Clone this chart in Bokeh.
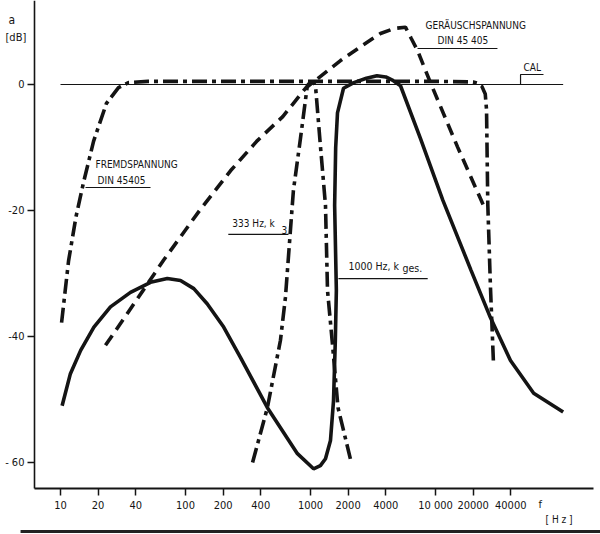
from bokeh.plotting import figure
from bokeh.models import FixedTicker, Label, Range1d
from bokeh.embed import file_html
from bokeh.resources import INLINE

# ---- axis ticks ----
x_ticks = [10, 20, 40, 100, 200, 400, 1000, 2000, 4000, 10000, 20000, 40000]
x_tick_labels = ["10", "20", "40", "100", "200", "400", "1000", "2000", "4000",
                 "10 000", "20000", "40000"]
y_ticks = [0, -20, -40, -60]
y_tick_labels = ["0", "-20", "-40", "- 60"]

# ---- curves (frequency in Hz, level in dB) ----
cal_f = [10, 105000]
cal_db = [0, 0]

fremd_f = [10.2, 11.6, 13.3, 15.3, 18.4, 23.3, 29.1, 35, 50, 100, 1000, 10000,
           20000, 21600, 23500, 25000, 25600, 26200, 27500, 29100]
fremd_db = [-37.8, -28, -21, -15.5, -9, -3, -0.5, 0.3, 0.5, 0.5, 0.5, 0.5,
            0.4, 0.2, -0.3, -1.5, -4, -19, -32, -44.3]

geraeusch_f = [22.9, 40, 66.7, 131.8, 229, 376, 600, 912, 1738, 2600, 3630,
               4700, 5750, 6400, 7180, 9150, 15000, 24200]
geraeusch_db = [-41.4, -34.4, -27.9, -19.8, -13.7, -8.9, -5.1, -0.6, 3.8, 6.2,
                8.1, 8.9, 9.1, 7.3, 5.4, 0.2, -9.9, -19.2]

k3_f = [344, 452, 575, 630, 730, 832, 943, 1000, 1050, 1096, 1200, 1318,
        1368, 1489, 1660, 2089]
k3_db = [-60, -51.3, -40.6, -33.8, -16.8, -8.5, -0.2, 0.4, 0.4, -0.2, -9.7,
         -19.2, -32.7, -40.6, -51.3, -59.5]

kges_f = [10.3, 12.0, 14.5, 18.5, 25.1, 36.3, 52.5, 71.5, 91.2, 116.6, 149,
          202, 275, 452, 786, 1058, 1200, 1318, 1445, 1528, 1580, 1610, 1560,
          1590, 1644, 1837, 2220, 2800, 3400, 4000, 4600, 5248, 7586, 11460,
          19250, 27500, 39800, 61000, 105000]
kges_db = [-51, -45.9, -42.2, -38.5, -35.3, -33.0, -31.4, -30.8, -31.1, -32.4,
           -34.8, -38.5, -43.3, -51.3, -58.6, -61, -60.5, -59.4, -56.5, -50.2,
           -40.6, -32.7, -19.2, -10, -4.5, -0.6, 0.3, 1.0, 1.4, 1.2, 0.6, -0.2,
           -8.6, -18.4, -29.5, -37, -43.8, -49, -52]

FONT = "DejaVu Sans Condensed"
INK = "#141414"

# visible page area in data units (log-frequency / dB)
F_MIN, F_MAX = 3.311, 208930
DB_MIN, DB_MAX = -71.43, 13.333
AX_F = 6.19        # where the level axis stands
AX_DB = -64.13     # where the frequency axis stands
AX_F_END = 183700

p = figure(width=600, height=534, x_axis_type="log",
           x_range=Range1d(F_MIN, F_MAX), y_range=Range1d(DB_MIN, DB_MAX),
           output_backend="svg", toolbar_location=None,
           min_border_left=0, min_border_right=0, min_border_top=0,
           min_border_bottom=0, background_fill_color="white",
           border_fill_color="white")
p.outline_line_color = None
p.grid.visible = False

# axes at fixed locations
xa = p.xaxis[0]
ya = p.yaxis[0]
xa.fixed_location = AX_DB
ya.fixed_location = AX_F
xa.bounds = (AX_F, AX_F_END)
ya.bounds = (AX_DB, DB_MAX)
xa.ticker = FixedTicker(ticks=x_ticks)
xa.major_label_overrides = dict(zip(x_ticks, x_tick_labels))
ya.ticker = FixedTicker(ticks=y_ticks)
ya.major_label_overrides = dict(zip(y_ticks, y_tick_labels))
for ax in (xa, ya):
    ax.axis_line_color = INK
    ax.major_tick_line_color = INK
    ax.major_tick_line_width = 1.5
    ax.minor_tick_line_color = None
    ax.major_tick_in = 0
    ax.major_tick_out = 7
    ax.major_label_text_font = FONT
    ax.major_label_text_font_size = "11px"
    ax.major_label_text_color = INK
xa.major_label_standoff = 3
ya.major_label_standoff = 3
xa.axis_line_width = 2
ya.axis_line_width = 1.6

# curves
p.line(cal_f, cal_db, line_color=INK, line_width=1.2)
p.line(fremd_f, fremd_db, line_color=INK, line_width=3.6,
       line_dash="15 5 4 5")
p.line(geraeusch_f, geraeusch_db, line_color=INK, line_width=3.6,
       line_dash="12 7")
p.line(k3_f, k3_db, line_color=INK, line_width=3.6, line_dash="15 5 4 5")
p.line(kges_f, kges_db, line_color=INK, line_width=3.6)

# leader lines for the annotations
p.line([7180, 31300], [5.71, 5.71], line_color=INK, line_width=1.2)
p.line([47900, 47900, 73100], [0, 1.59, 1.59], line_color=INK, line_width=1.2)
p.line([15.85, 52.5], [-16.35, -16.35], line_color=INK, line_width=1.2)
p.line([220, 667], [-23.8, -23.8], line_color=INK, line_width=1.2)
p.line([1673, 8660], [-30.8, -30.8], line_color=INK, line_width=1.2)

# dark edge of the scanned page
p.line([4.79, F_MAX], [-70.95, -70.95], line_color="#222222", line_width=3)

def lab(x, y, t, size="10px"):
    p.add_layout(Label(x=x, y=y, text=t, text_font=FONT, text_font_size=size,
                       text_color=INK, text_baseline="middle",
                       text_align="left"))

lab(8318, 9.37, "GERÄUSCHSPANNUNG")
lab(10380, 6.98, "DIN  45 405")
lab(50600, 2.70, "CAL")
lab(19.05, -12.70, "FREMDSPANNUNG")
lab(19.8, -15.24, "DIN  45405")
lab(237, -22.06, "333 Hz, k")
lab(585, -23.17, "3", "10px")
lab(2010, -28.8, "1000 Hz, k", "10.5px")
lab(5445, -29.13, "ges.", "10.5px")
lab(3.84, 10.16, "a", "12px")
lab(3.63, 7.46, "[dB]", "11px")
lab(66700, -66.67, "f", "11px")
lab(75900, -68.97, "[ H z ]", "10px")

open("out.html", "w").write(file_html(p, INLINE))
